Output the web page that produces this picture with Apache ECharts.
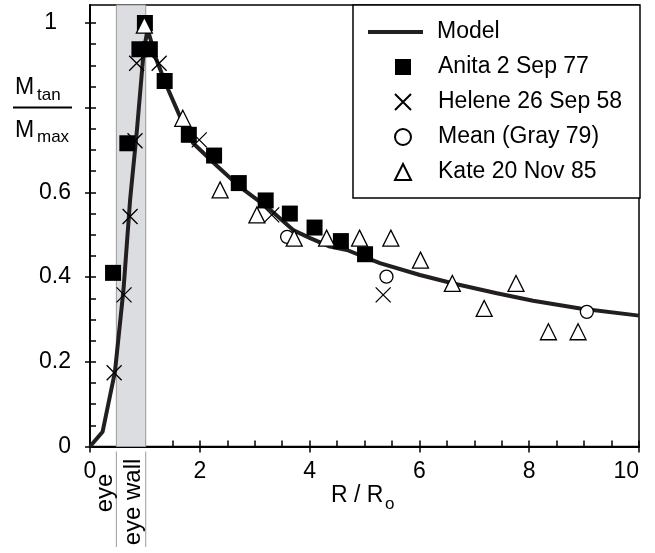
<!DOCTYPE html>
<html><head><meta charset="utf-8">
<script src="https://cdn.jsdelivr.net/npm/echarts@6/dist/echarts.min.js"></script>
<style>html,body{margin:0;padding:0;background:#fff}#c{width:655px;height:553px}</style>
</head><body><div id="c"></div>
<script>
// ---- data ----
const modelX = [0, 0.23, 0.455, 0.61, 0.73, 0.85, 0.98, 1.05, 1.21, 1.40, 1.64, 1.88, 2.31, 2.73, 3.22, 3.70, 4.01, 4.37, 4.68, 5.28, 6.01, 6.62, 7.41, 8.07, 8.93, 10.0];
const modelY = [0, 0.035, 0.177, 0.37, 0.582, 0.74, 0.936, 0.985, 0.913, 0.85, 0.779, 0.716, 0.663, 0.613, 0.566, 0.511, 0.492, 0.472, 0.464, 0.433, 0.405, 0.385, 0.362, 0.344, 0.326, 0.309];

const anitaX = [0.42, 0.68, 0.90, 1.0, 1.09, 1.36, 1.80, 2.26, 2.71, 3.20, 3.64, 4.09, 4.57, 5.01];
const anitaY = [0.41, 0.716, 0.938, 1.0, 0.938, 0.863, 0.736, 0.687, 0.622, 0.581, 0.550, 0.517, 0.485, 0.454];

const heleneX = [0.44, 0.62, 0.73, 0.82, 0.85, 1.26, 1.99, 3.31, 5.34];
const heleneY = [0.174, 0.358, 0.543, 0.722, 0.905, 0.905, 0.724, 0.547, 0.358];

const meanX = [3.59, 5.40, 9.05];
const meanY = [0.495, 0.401, 0.318];

const kateX = [0.99, 1.69, 2.37, 3.04, 3.72, 4.31, 4.91, 5.48, 6.02, 6.60, 7.18, 7.76, 8.35, 8.89];
const kateY = [0.995, 0.775, 0.606, 0.547, 0.492, 0.492, 0.492, 0.492, 0.440, 0.385, 0.326, 0.385, 0.271, 0.271];

const seriesNames = ['Model', 'Anita 2 Sep 77', 'Helene 26 Sep 58', 'Mean (Gray 79)', 'Kate 20 Nov 85'];
const xTickValues = [0, 2, 4, 6, 8, 10];
const xMinorValues = [0,0.5,1,1.5,2,2.5,3,3.5,4,4.5,5,5.5,6,6.5,7,7.5,8,8.5,9,9.5,10];
const yTickValues = [0, 0.2, 0.4, 0.6, 0.8, 1];
const yLabelValues = [0, 0.2, 0.4, 0.6, 1];
const yMinorValues = [0,0.05,0.1,0.15,0.2,0.25,0.3,0.35,0.4,0.45,0.5,0.55,0.6,0.65,0.7,0.75,0.8,0.85,0.9,0.95,1];
const eyeBand = [0.48, 1.015];
const eyeLabels = ['eye', 'eye wall'];

const zip = (xs, ys) => xs.map((x, i) => [x, ys[i]]);
const FONT = '"Liberation Sans", Arial, Helvetica, sans-serif';
const legendText = {fontFamily: FONT, fontSize: 23, color: '#000', lineHeight: 24};

const chart = echarts.init(document.getElementById('c'), null, {renderer: 'canvas'});
const option = {
  animation: false,
  backgroundColor: '#fff',
  textStyle: {fontFamily: FONT},
  grid: {left: 90, right: 16, top: 5, bottom: 106.5, show: true, borderColor: '#000', borderWidth: 1.5, backgroundColor: 'transparent'},
  legend: [{
    data: [{name: seriesNames[0], icon: 'rect'}],
    orient: 'vertical', left: 368, top: 20, padding: 0,
    itemWidth: 55, itemHeight: 4, z: 6,
    textStyle: Object.assign({}, legendText, {padding: [0, 0, 0, 9]})
  }, {
    data: seriesNames.slice(1),
    orient: 'vertical', left: 394, top: 55, padding: 0,
    itemGap: 11, itemWidth: 16, itemHeight: 16, z: 6,
    textStyle: Object.assign({}, legendText, {padding: [0, 0, 0, 22]})
  }],
  xAxis: [{
    type: 'value', min: 0, max: 10, interval: 2,
    axisLine: {lineStyle: {color: '#000', width: 2}},
    axisTick: {inside: false, length: 6, lineStyle: {color: '#000', width: 1.5}, customValues: xTickValues},
    axisLabel: {fontFamily: FONT, fontSize: 23, color: '#000', margin: 14, alignMaxLabel: 'right', customValues: xTickValues},
    splitLine: {show: false}
  }, {
    type: 'value', min: 0, max: 10, interval: 0.5, position: 'bottom',
    axisLine: {show: false},
    axisTick: {inside: true, length: 6, lineStyle: {color: '#000', width: 1.5}, customValues: xMinorValues},
    axisLabel: {show: false},
    splitLine: {show: false}
  }],
  yAxis: [{
    type: 'value', min: 0, max: 1.0425, interval: 0.2,
    axisLine: {lineStyle: {color: '#000', width: 2}},
    axisTick: {inside: false, length: 5, lineStyle: {color: '#000', width: 1.5}, customValues: yTickValues},
    axisLabel: {
      fontFamily: FONT, fontSize: 23, color: '#000', margin: 19, customValues: yLabelValues,
      formatter: v => {
        const r = Math.round(v * 100) / 100;
        if (!yLabelValues.includes(r)) return '';
        return r === 1 ? '{one|1}' : String(r);
      },
      rich: {one: {fontFamily: FONT, fontSize: 23, color: '#000', padding: [0, 14, 0, 0]}}
    },
    splitLine: {show: false}
  }, {
    type: 'value', min: 0, max: 1.0425, interval: 0.05, position: 'left',
    axisLine: {show: false},
    axisTick: {inside: true, length: 6, lineStyle: {color: '#000', width: 1.5}, customValues: yMinorValues},
    axisLabel: {show: false},
    splitLine: {show: false}
  }],
  series: [{
    name: seriesNames[0], type: 'line', data: zip(modelX, modelY),
    symbol: 'none', smooth: false, z: 3,
    lineStyle: {color: '#231f20', width: 4}, itemStyle: {color: '#231f20'},
    markArea: {
      silent: true, z: 1,
      itemStyle: {color: '#dcdde0', borderColor: '#9a9a9a', borderWidth: 1},
      data: [[{xAxis: eyeBand[0]}, {xAxis: eyeBand[1]}]]
    }
  }, {
    name: seriesNames[1], type: 'scatter', data: zip(anitaX, anitaY), z: 4,
    symbol: 'rect', symbolSize: 16, itemStyle: {color: '#000', opacity: 1}
  }, {
    name: seriesNames[2], type: 'scatter', data: zip(heleneX, heleneY), z: 5,
    symbol: 'path://M0,0L10,10M10,0L0,10', symbolSize: 15,
    itemStyle: {color: 'rgba(0,0,0,0)', borderColor: '#000', borderWidth: 1.3, opacity: 1}
  }, {
    name: seriesNames[3], type: 'scatter', data: zip(meanX, meanY), z: 6,
    symbol: 'circle', symbolSize: 13,
    itemStyle: {color: '#fff', borderColor: '#000', borderWidth: 1.3, opacity: 1}
  }, {
    name: seriesNames[4], type: 'scatter', data: zip(kateX, kateY), z: 7,
    symbol: 'triangle', symbolSize: 16,
    itemStyle: {color: '#fff', borderColor: '#000', borderWidth: 1.3, opacity: 1}
  }]
};
chart.setOption(option);

// eye / eye wall annotations below the axis, positioned via the axis scale
const p0 = chart.convertToPixel({gridIndex: 0}, [eyeBand[0], 0]);
const p1 = chart.convertToPixel({gridIndex: 0}, [eyeBand[1], 0]);
const axisY = p0[1];
const graphics = [
  // legend frame
  {type: 'rect', z: 5, shape: {x: 353, y: 5, width: 287, height: 193}, style: {fill: '#fff', stroke: '#000', lineWidth: 1.5}},
  {type: 'line', shape: {x1: p0[0], y1: axisY + 5, x2: p0[0], y2: 547}, style: {stroke: '#9a9a9a', lineWidth: 1}},
  {type: 'line', shape: {x1: p1[0], y1: axisY + 5, x2: p1[0], y2: 547}, style: {stroke: '#9a9a9a', lineWidth: 1}},
  {type: 'text', x: p0[0] - 11, y: 493, rotation: Math.PI / 2,
   style: {text: eyeLabels[0], font: '24px ' + FONT, fill: '#000', align: 'center', verticalAlign: 'middle'}},
  {type: 'text', x: (p0[0] + p1[0]) / 2 + 2.5, y: 502, rotation: Math.PI / 2,
   style: {text: eyeLabels[1], font: '24px ' + FONT, fill: '#000', align: 'center', verticalAlign: 'middle'}},
  // y axis name: M_tan / M_max
  {type: 'text', x: 15, y: 87.5, style: {text: 'M', font: '23px ' + FONT, fill: '#000', align: 'left', verticalAlign: 'middle'}},
  {type: 'text', x: 37, y: 95, style: {text: 'tan', font: '17px ' + FONT, fill: '#000', align: 'left', verticalAlign: 'middle'}},
  {type: 'line', shape: {x1: 13, y1: 107.5, x2: 72, y2: 107.5}, style: {stroke: '#000', lineWidth: 2}},
  {type: 'text', x: 15, y: 130.5, style: {text: 'M', font: '23px ' + FONT, fill: '#000', align: 'left', verticalAlign: 'middle'}},
  {type: 'text', x: 37, y: 137.5, style: {text: 'max', font: '17px ' + FONT, fill: '#000', align: 'left', verticalAlign: 'middle'}},
  // x axis name: R / R_o
  {type: 'text', x: 331, y: 495.3, style: {text: 'R / R', font: '23px ' + FONT, fill: '#000', align: 'left', verticalAlign: 'middle'}},
  {type: 'text', x: 385, y: 504, style: {text: 'o', font: '17px ' + FONT, fill: '#000', align: 'left', verticalAlign: 'middle'}}
];
chart.setOption({graphic: graphics});
</script>
</body></html>
